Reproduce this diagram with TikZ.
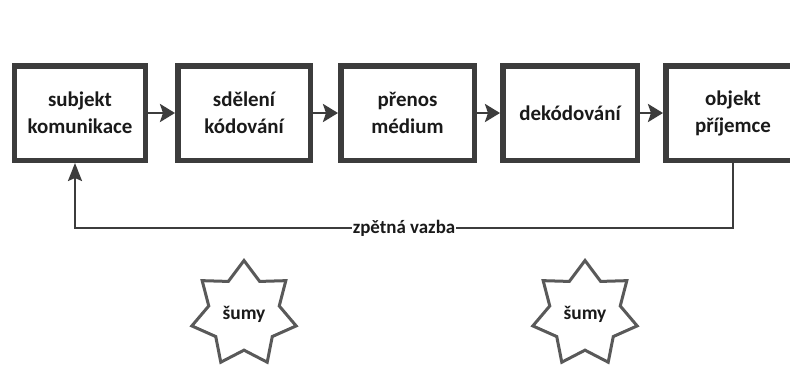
\documentclass[tikz,border=0pt]{standalone}
\usepackage{fontspec}
\setmainfont{Carlito}
\usetikzlibrary{arrows.meta,shapes.geometric}
\definecolor{frame}{HTML}{3C3C3C}
\definecolor{ink}{HTML}{1A1A1A}
\tikzset{
  stage/.style={draw=frame, line width=5.5bp, fill=white, inner sep=0pt,
    minimum height=94.5bp, align=center, text=ink,
    font=\fontsize{21}{27}\selectfont\bfseries},
  flow/.style={draw=frame, line width=2.8bp,
    -{Stealth[length=15bp,width=18bp,inset=3bp]}},
  noise/.style={star, star points=7, star point ratio=1.48, draw=frame!85,
    line width=3bp, minimum size=107bp, inner sep=0pt, text=ink,
    font=\fontsize{19.5}{21}\selectfont\bfseries},
  fblabel/.style={fill=white, inner sep=1bp, text=ink,
    font=\fontsize{19}{21}\selectfont\bfseries}
}
\begin{document}
\begin{tikzpicture}[x=1bp, y=-1bp]
  \clip (0,0) rectangle (790,367);
  \fill[white] (0,0) rectangle (790,367);

  % the five stages of the communication chain
  \node[stage, minimum width=130.5bp] (b1) at (80,113)    {subjekt\\komunikace};
  \node[stage, minimum width=132.5bp] (b2) at (244,113)   {sdělení\\kódování};
  \node[stage, minimum width=133.5bp] (b3) at (407.5,113) {přenos\\médium};
  \node[stage, minimum width=134.5bp] (b4) at (570,113)   {dekódování};
  \node[stage, minimum width=134.5bp] (b5) at (733,113)   {objekt\\příjemce};

  \draw[flow] (b1) -- (b2);
  \draw[flow] (b2) -- (b3);
  \draw[flow] (b3) -- (b4);
  \draw[flow] (b4) -- (b5);

  % feedback loop back to the sender
  \coordinate (fbR) at (733,228);
  \coordinate (fbL) at (75,228);
  \draw[draw=frame, line width=2.2bp, -{Stealth[length=18bp,width=14bp,inset=3bp]}]
    (b5.south) -- (fbR) -- node[fblabel] (fb) {zpětná vazba} (fbL)
    -- (fbL |- b1.south);

  % noise sources
  \node[noise] (n1) at (244,314) {šumy};
  \node[noise] (n2) at (585,314) {šumy};
\end{tikzpicture}
\end{document}
